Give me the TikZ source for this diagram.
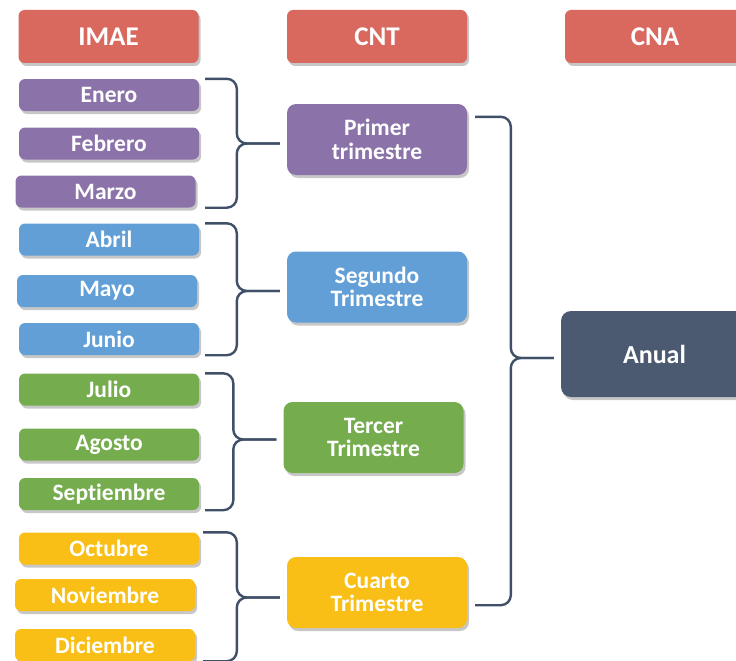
\documentclass[tikz,border=0pt]{standalone}
\usepackage{fontspec}
\setmainfont{Carlito}[Ligatures=NoCommon]
\usepackage{xcolor}
\usepackage{tikz}
\usetikzlibrary{shadows, calc}

\definecolor{headred}{HTML}{D9685F}
\definecolor{qpurple}{HTML}{8B73AA}
\definecolor{qblue}{HTML}{629FD6}
\definecolor{qgreen}{HTML}{75AD4E}
\definecolor{qyellow}{HTML}{F9BF16}
\definecolor{yearslate}{HTML}{4B5A70}
\definecolor{linkslate}{HTML}{3F5068}

\begin{document}
\begin{tikzpicture}[
    x=1pt, y=-1pt,
    box/.style={rounded corners=6pt, text=white, align=center, inner sep=0pt,
        drop shadow={shadow xshift=2pt, shadow yshift=-3pt, opacity=0.22, fill=black}},
    header/.style={box, fill=headred, minimum width=180pt, minimum height=53pt,
        font=\fontsize{27}{29}\selectfont\bfseries},
    month/.style={box, fill=#1, minimum width=180pt, minimum height=32pt,
        font=\fontsize{23.5}{25}\selectfont\bfseries},
    quarter/.style={box, fill=#1, rounded corners=9pt, minimum width=180pt, minimum height=71pt,
        font=\fontsize{23.5}{23.5}\selectfont\bfseries},
    year/.style={box, fill=yearslate, rounded corners=10pt, minimum width=187pt, minimum height=86pt,
        font=\fontsize{26}{28}\selectfont\bfseries},
    bracket/.style={draw=linkslate, line width=2.4pt, rounded corners=10pt,
        to path={let \p1=(\tikztostart), \p2=(\tikztotarget) in
            -- (\x2-50,\y1) -- (\x2-50,\y2) -- (\x2-7,\y2)}}
]
\useasboundingbox (0,0) rectangle (736,661);
\clip (0,0) rectangle (736,661);

% Headers
\node[header] (imae) at (108.5,36.5) {IMAE};
\node[header] (cnt) at (377,36.5) {CNT};
\node[header] (cna) at (655,36.5) {CNA};

% Months
\node[month=qpurple] (ene) at (109,95) {Enero};
\node[month=qpurple] (feb) at (109,143.5) {Febrero};
\node[month=qpurple] (mar) at (105.5,191.5) {Marzo};

\node[month=qblue] (abr) at (109,239.5) {Abril};
\node[month=qblue] (may) at (107,291) {Mayo};
\node[month=qblue] (jun) at (109,339) {Junio};

\node[month=qgreen] (jul) at (109,389.5) {Julio};
\node[month=qgreen] (ago) at (109,444.5) {Agosto};
\node[month=qgreen] (sep) at (109,494) {Septiembre};

\node[month=qyellow] (oct) at (109,548.5) {Octubre};
\node[month=qyellow] (nov) at (105,595) {Noviembre};
\node[month=qyellow] (dic) at (105,645) {Diciembre};

% Quarters
\node[quarter=qpurple] (pri) at (377,139.5) {Primer\\trimestre};
\node[quarter=qblue] (seg) at (377,287) {Segundo\\Trimestre};
\node[quarter=qgreen] (ter) at (373.5,437.5) {Tercer\\Trimestre};
\node[quarter=qyellow] (cua) at (377,592.5) {Cuarto\\Trimestre};

% Year
\node[year] (anu) at (654.5,354) {Anual};

% Braces
\draw[bracket] ([xshift=6pt]ene.north east) to ([yshift=-4pt]pri.west);
\draw[bracket] ([xshift=6pt]ene.east |- mar.south) to ([yshift=-4pt]pri.west);

\draw[bracket] ([xshift=6pt]abr.north east) to ([yshift=-4pt]seg.west);
\draw[bracket] ([xshift=6pt]abr.east |- jun.south) to ([yshift=-4pt]seg.west);

\draw[bracket] ([xshift=6pt]jul.north east) to ([yshift=-2pt]ter.west);
\draw[bracket] ([xshift=6pt]jul.east |- sep.south) to ([yshift=-2pt]ter.west);

\draw[bracket] ([xshift=4pt]oct.north east) to ([yshift=-5pt]cua.west);
\draw[bracket] ([xshift=4pt]oct.east |- dic.south) to ([yshift=-5pt]cua.west);

\draw[bracket] ([shift={(8pt,-13pt)}]pri.north east) to ([yshift=-4pt]anu.west);
\draw[bracket] ([shift={(8pt,23pt)}]cua.south east) to ([yshift=-4pt]anu.west);

\end{tikzpicture}
\end{document}
